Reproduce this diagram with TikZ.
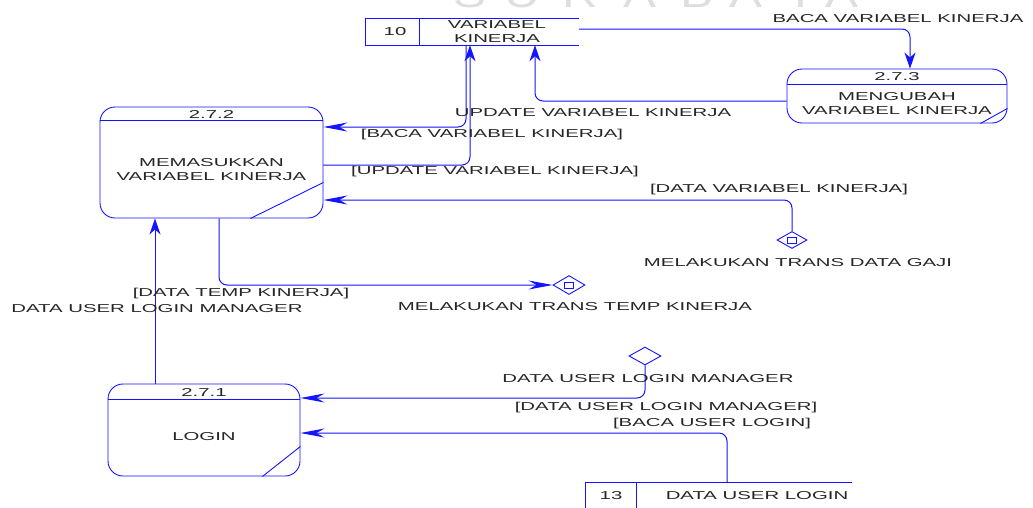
\documentclass[tikz,border=0pt]{standalone}
\usepackage{fontspec}
\setmainfont{Liberation Sans}[FakeStretch=1.77]
\newfontfamily\wmfont{Liberation Sans}[FakeStretch=1.3]
\usetikzlibrary{arrows.meta,shapes.geometric,calc}
\definecolor{dfd}{RGB}{20,20,255}
\tikzset{
  every node/.style={font=\fontsize{11.5}{14}\selectfont, text=black!85, inner sep=0pt, align=center},
  proc/.style={draw=dfd, line width=0.9pt, rounded corners=15pt, minimum width=#1},
  flowbase/.style={draw=dfd, line width=1pt, rounded corners=8pt},
  flowv/.style={flowbase, -{Stealth[length=16pt,width=11pt,inset=5pt]}},
  flowh/.style={flowbase, -{Stealth[length=24pt,width=9pt,inset=8pt]}},
  plain/.style={draw=dfd, line width=0.9pt},
  diam/.style={draw=dfd, line width=0.9pt, shape=diamond, inner sep=0pt},
  wm/.style={font=\wmfont\fontsize{38}{38}\selectfont, text=black!13, anchor=base, align=left}
}
\begin{document}
\begin{tikzpicture}[x=1pt,y=-1pt]
\useasboundingbox (0,0) rectangle (1033,507);
% watermark
\foreach \c/\xx [count=\i] in {S/470,U/522,R/580,A/640,B/697,A/746,Y/801,A/842}
  \node[wm] (wm\i) at (\xx,7) {\c};

% data store 10
\node[minimum width=213pt, minimum height=26pt] (s10) at (472.5,32) {};
\draw[plain] (s10.north east) -- (s10.north west) -- (s10.south west) -- (s10.south east);
\draw[plain] ([xshift=54pt]s10.north west) -- ([xshift=54pt]s10.south west);
\node (s10n) at (395,32) {10};
\node (s10t) at (497,32) {VARIABEL\\KINERJA};

% data store 13
\node[minimum width=266pt, minimum height=26pt] (s13) at (719,496) {};
\draw[plain] (s13.north east) -- (s13.north west) -- (s13.south west);
\draw[plain] ([xshift=51pt]s13.north west) -- ([xshift=51pt]s13.south west);
\node (s13n) at (611,496) {13};
\node (s13t) at (757,496) {DATA USER LOGIN};

% processes
\node[proc=220pt, minimum height=54pt] (p273) at (897,96) {};
\draw[plain] ([yshift=-16pt]p273.north west) -- ([yshift=-16pt]p273.north east);
\draw[plain] ([yshift=15pt]p273.south east) -- ([xshift=-27pt]p273.south east);
\node (p273n) at (897,77) {2.7.3};
\node (p273t) at (897,104) {MENGUBAH\\VARIABEL KINERJA};

\node[proc=223pt, minimum height=111pt] (p272) at (211.5,162.5) {};
\draw[plain] ([yshift=-14pt]p272.north west) -- ([yshift=-14pt]p272.north east);
\draw[plain] ([yshift=36pt]p272.south east) -- ([xshift=-73pt]p272.south east);
\node (p272n) at (211.5,114) {2.7.2};
\node (p272t) at (211.5,170) {MEMASUKKAN\\VARIABEL KINERJA};

\node[proc=192pt, minimum height=92pt] (p271) at (204,430) {};
\draw[plain] ([yshift=-16pt]p271.north west) -- ([yshift=-16pt]p271.north east);
\draw[plain] ([yshift=30pt]p271.south east) -- ([xshift=-38pt]p271.south east);
\node (p271n) at (204,392) {2.7.1};
\node (p271t) at (204,437) {LOGIN};

% external/diamonds
\node[diam, minimum width=30pt, minimum height=17pt] (d1) at (792,240) {};
\draw[plain] (787.5,237) rectangle (796.5,243);
\node[diam, minimum width=32pt, minimum height=19pt] (d2) at (569,285) {};
\draw[plain] (564.5,282) rectangle (573.5,288);
\node[diam, minimum width=32pt, minimum height=18pt] (d3) at (645,356) {};

% flows
\draw[flowv] ([yshift=3pt]s10.east) -| ([xshift=13pt]p273.north);
\draw[flowv] ([yshift=-5pt]p273.west) -| ([xshift=62.5pt]s10.south);
\draw[flowh] ([xshift=-6.5pt]s10.south) |- ([yshift=35.5pt]p272.east);
\draw[flowv] ([yshift=-2.5pt]p272.east) -| ([xshift=-2.5pt]s10.south);
\draw[flowh] (d1.north) |- ([yshift=-37.5pt]p272.east);
\draw[flowh] ([xshift=7.5pt]p272.south) |- (d2.west);
\draw[flowv] ([xshift=-49pt]p271.north) -- ([xshift=-49pt]p271.north |- p272.south);
\draw[flowh] (d3.south) |- ([yshift=32pt]p271.east);
\draw[flowh] ([xshift=8pt]s13.north) |- ([yshift=-3pt]p271.east);

% labels
\node (l1) at (898,19) {BACA VARIABEL KINERJA};
\node (l2) at (593,113) {UPDATE VARIABEL KINERJA};
\node (l3) at (492,135) {[BACA VARIABEL KINERJA]};
\node (l4) at (495,172) {[UPDATE VARIABEL KINERJA]};
\node (l5) at (779,190) {[DATA VARIABEL KINERJA]};
\node (l6) at (798,263) {MELAKUKAN TRANS DATA GAJI};
\node (l7) at (241,294) {[DATA TEMP KINERJA]};
\node (l8) at (575,307) {MELAKUKAN TRANS TEMP KINERJA};
\node (l9) at (157,309) {DATA USER LOGIN MANAGER};
\node (l10) at (648,379) {DATA USER LOGIN MANAGER};
\node (l11) at (666,408) {[DATA USER LOGIN MANAGER]};
\node (l12) at (712,424) {[BACA USER LOGIN]};
\end{tikzpicture}
\end{document}
